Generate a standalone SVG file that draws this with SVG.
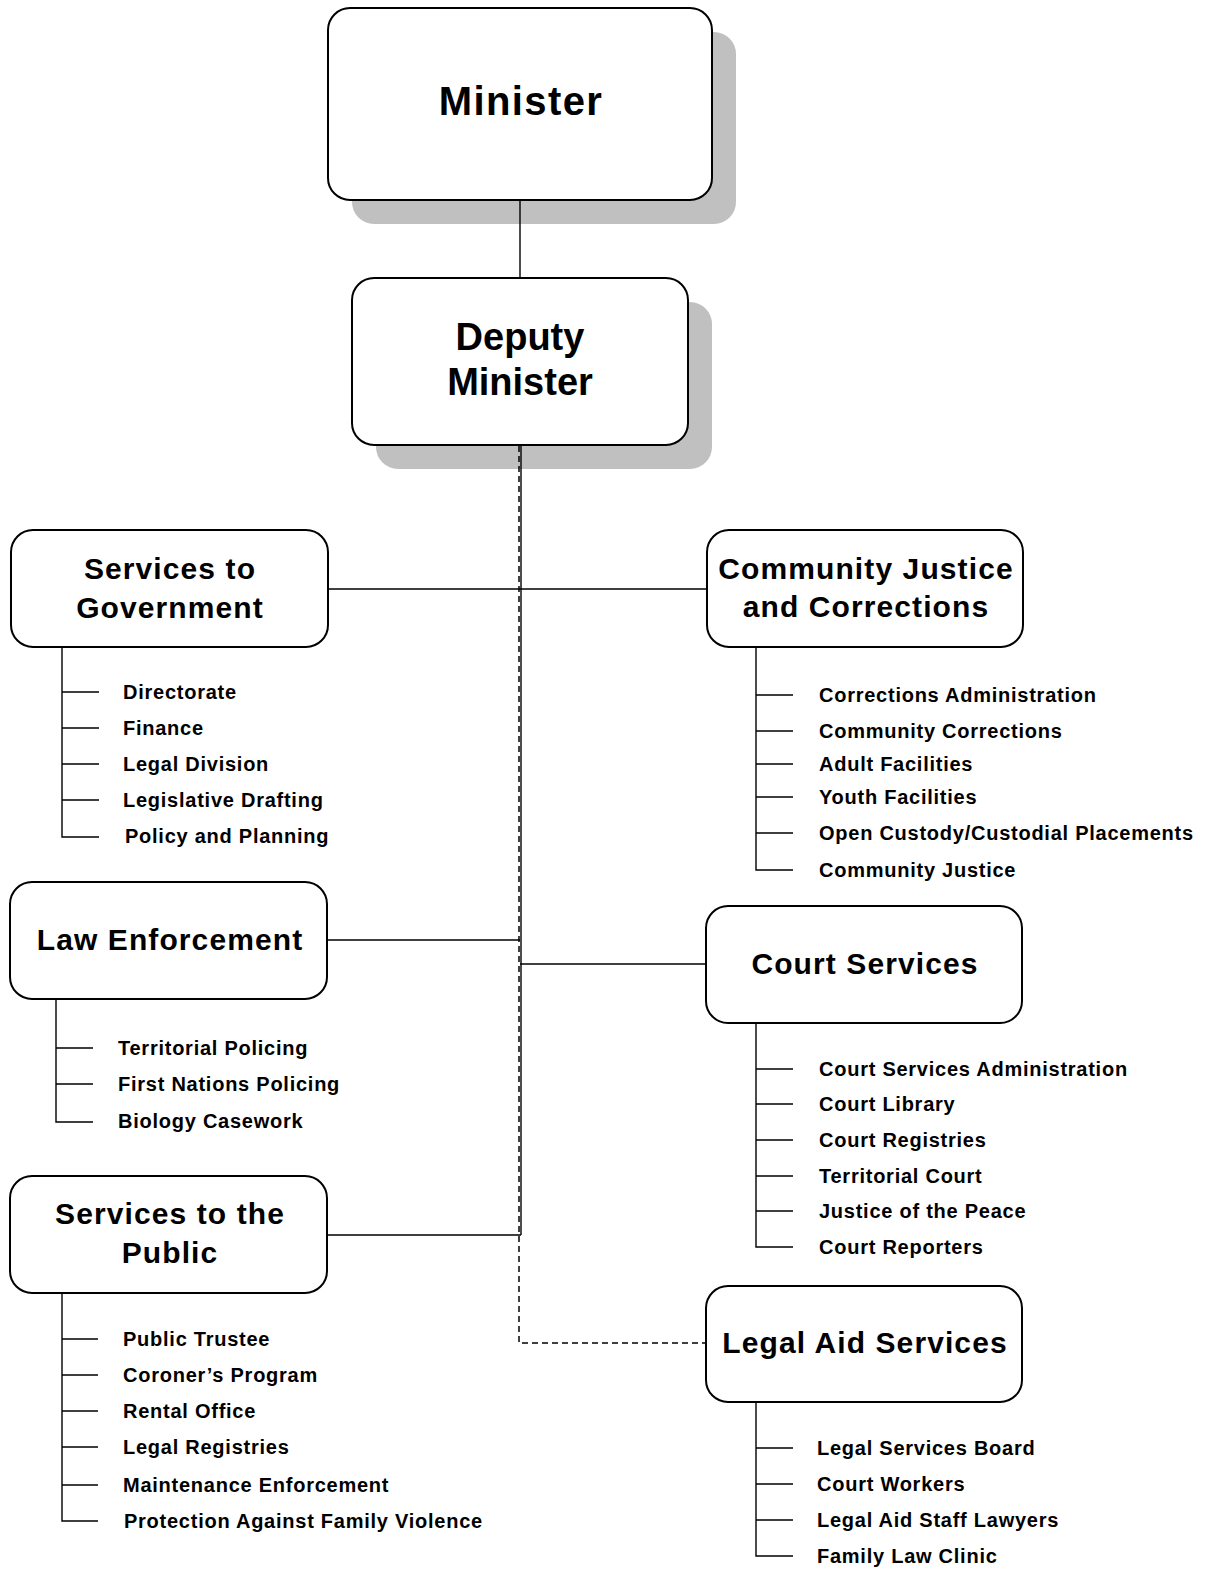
<svg xmlns="http://www.w3.org/2000/svg" width="1205" height="1570" viewBox="0 0 1205 1570">
<style>
.box{fill:#fff;stroke:#000;stroke-width:2}
.shadow{fill:#c0c0c0}
.title{font-family:"Liberation Sans",Arial,sans-serif;font-weight:bold;text-anchor:middle;fill:#000;letter-spacing:1.1px}
.item{font-family:"Liberation Sans",Arial,sans-serif;font-weight:bold;font-size:20px;fill:#000;letter-spacing:0.75px}
.ln{stroke:#000;stroke-width:1.4;fill:none}
.dash{stroke:#000;stroke-width:1.5;fill:none;stroke-dasharray:6,4}
</style>
<rect width="1205" height="1570" fill="#fff"/>
<g id="minister">
<rect class="shadow" x="352" y="32" width="384" height="192" rx="22"/>
<rect class="box" x="328" y="8" width="384" height="192" rx="22"/>
<text class="title" x="521" y="115" font-size="40" style="letter-spacing:1.4px">Minister</text>
</g>
<g id="deputy-minister">
<rect class="shadow" x="376" y="302" width="336" height="167" rx="22"/>
<rect class="box" x="352" y="278" width="336" height="167" rx="22"/>
<text class="title" x="520" y="350" font-size="38" style="letter-spacing:0">Deputy</text>
<text class="title" x="520" y="395" font-size="38" style="letter-spacing:0">Minister</text>
</g>
<g id="services-to-government">
<rect class="box" x="11" y="530" width="317" height="117" rx="22"/>
<text class="title" x="170" y="579" font-size="30">Services to</text>
<text class="title" x="170" y="618" font-size="30">Government</text>
<path class="ln" d="M62,647 V837 H99 M62,692 H99 M62,728 H99 M62,764 H99 M62,800 H99"/>
<text class="item" x="123" y="699">Directorate</text>
<text class="item" x="123" y="735">Finance</text>
<text class="item" x="123" y="771">Legal Division</text>
<text class="item" x="123" y="807">Legislative Drafting</text>
<text class="item" x="125" y="843">Policy and Planning</text>
</g>
<g id="community-justice">
<rect class="box" x="707" y="530" width="316" height="117" rx="22"/>
<text class="title" x="866" y="579" font-size="30">Community Justice</text>
<text class="title" x="866" y="617" font-size="30">and Corrections</text>
<path class="ln" d="M756,647 V870 H793 M756,695 H793 M756,731 H793 M756,764 H793 M756,797 H793 M756,833 H793"/>
<text class="item" x="819" y="702">Corrections Administration</text>
<text class="item" x="819" y="738">Community Corrections</text>
<text class="item" x="819" y="771">Adult Facilities</text>
<text class="item" x="819" y="804">Youth Facilities</text>
<text class="item" x="819" y="840">Open Custody/Custodial Placements</text>
<text class="item" x="819" y="877">Community Justice</text>
</g>
<g id="law-enforcement">
<rect class="box" x="10" y="882" width="317" height="117" rx="22"/>
<text class="title" x="170" y="950" font-size="30">Law Enforcement</text>
<path class="ln" d="M56,999 V1122 H93 M56,1048 H93 M56,1084 H93"/>
<text class="item" x="118" y="1055">Territorial Policing</text>
<text class="item" x="118" y="1091">First Nations Policing</text>
<text class="item" x="118" y="1128">Biology Casework</text>
</g>
<g id="court-services">
<rect class="box" x="706" y="906" width="316" height="117" rx="22"/>
<text class="title" x="865" y="974" font-size="30">Court Services</text>
<path class="ln" d="M756,1023 V1247 H793 M756,1069 H793 M756,1104 H793 M756,1140 H793 M756,1176 H793 M756,1211 H793"/>
<text class="item" x="819" y="1076">Court Services Administration</text>
<text class="item" x="819" y="1111">Court Library</text>
<text class="item" x="819" y="1147">Court Registries</text>
<text class="item" x="819" y="1183">Territorial Court</text>
<text class="item" x="819" y="1218">Justice of the Peace</text>
<text class="item" x="819" y="1254">Court Reporters</text>
</g>
<g id="services-to-public">
<rect class="box" x="10" y="1176" width="317" height="117" rx="22"/>
<text class="title" x="170" y="1224" font-size="30">Services to the</text>
<text class="title" x="170" y="1263" font-size="30">Public</text>
<path class="ln" d="M62,1293 V1521 H98 M62,1339 H98 M62,1375 H98 M62,1411 H98 M62,1447 H98 M62,1485 H98"/>
<text class="item" x="123" y="1346">Public Trustee</text>
<text class="item" x="123" y="1382">Coroner’s Program</text>
<text class="item" x="123" y="1418">Rental Office</text>
<text class="item" x="123" y="1454">Legal Registries</text>
<text class="item" x="123" y="1492">Maintenance Enforcement</text>
<text class="item" x="124" y="1528">Protection Against Family Violence</text>
</g>
<g id="legal-aid">
<rect class="box" x="706" y="1286" width="316" height="116" rx="22"/>
<text class="title" x="865" y="1353" font-size="30">Legal Aid Services</text>
<path class="ln" d="M756,1402 V1556 H793 M756,1448 H793 M756,1484 H793 M756,1520 H793"/>
<text class="item" x="817" y="1455">Legal Services Board</text>
<text class="item" x="817" y="1491">Court Workers</text>
<text class="item" x="817" y="1527">Legal Aid Staff Lawyers</text>
<text class="item" x="817" y="1563">Family Law Clinic</text>
</g>
<g id="connectors">
<line class="ln" x1="520" y1="201" x2="520" y2="277"/>
<line class="ln" x1="521" y1="446" x2="521" y2="1235"/>
<path class="dash" d="M519,446 V1343 H705"/>
<line class="ln" x1="329" y1="589" x2="706" y2="589"/>
<line class="ln" x1="328" y1="940" x2="520" y2="940"/>
<line class="ln" x1="520" y1="964" x2="705" y2="964"/>
<line class="ln" x1="328" y1="1235" x2="521" y2="1235"/>
</g>
</svg>
